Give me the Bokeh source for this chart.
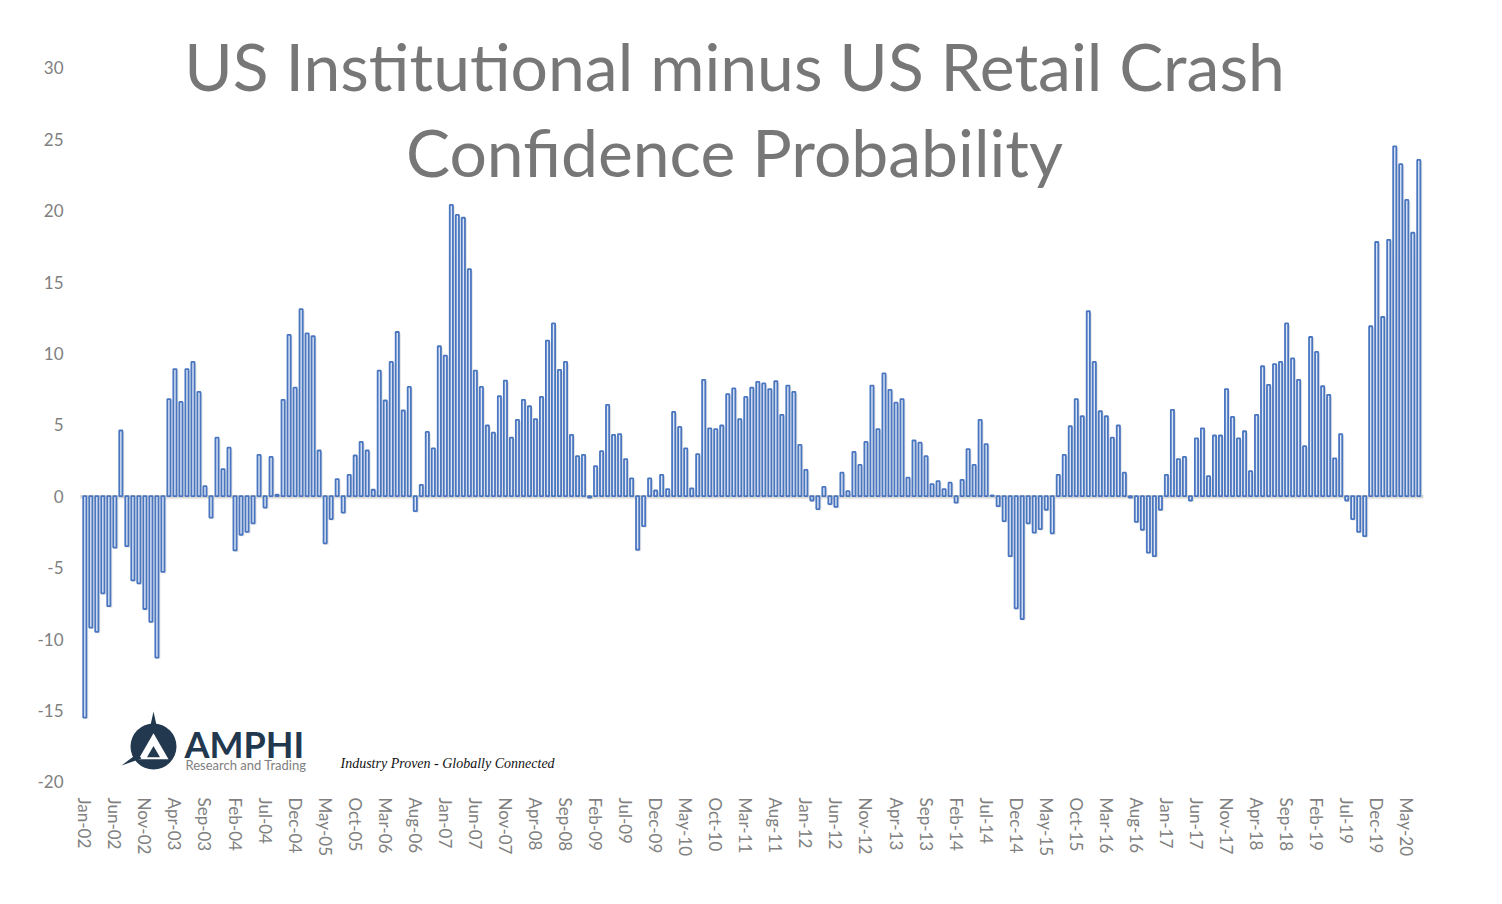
from bokeh.plotting import figure
from bokeh.models import Range1d, FixedTicker, ColumnDataSource
from bokeh.embed import file_html
from bokeh.resources import INLINE
from bokeh.core.properties import value

# ---------------- data ----------------
values = [
    -15.5, -9.2, -9.5, -6.8, -7.7, -3.6, 4.6, -3.5, -5.9, -6.1, -7.9, -8.8,      # 2002
    -11.3, -5.3, 6.8, 8.9, 6.6, 8.9, 9.4, 7.3, 0.7, -1.5, 4.1, 1.9,              # 2003
    3.4, -3.8, -2.7, -2.5, -1.9, 2.9, -0.8, 2.75, 0.1, 6.75, 11.3, 7.6,          # 2004
    13.1, 11.4, 11.2, 3.2, -3.3, -1.6, 1.2, -1.15, 1.5, 2.85, 3.8, 3.2,          # 2005
    0.45, 8.8, 6.7, 9.4, 11.5, 6.0, 7.65, -1.05, 0.8, 4.5, 3.35, 10.5,           # 2006
    9.85, 20.4, 19.7, 19.5, 15.9, 8.8, 7.65, 4.95, 4.45, 7.0, 8.1, 4.1,          # 2007
    5.35, 6.75, 6.3, 5.4, 6.95, 10.9, 12.1, 8.85, 9.4, 4.3, 2.8, 2.9,            # 2008
    -0.1, 2.1, 3.15, 6.4, 4.3, 4.35, 2.6, 1.25, -3.75, -2.1, 1.25, 0.4,          # 2009
    1.5, 0.5, 5.9, 4.85, 3.35, 0.55, 2.95, 8.15, 4.75, 4.7, 4.95, 7.15,          # 2010
    7.55, 5.4, 6.95, 7.6, 8.0, 7.9, 7.5, 8.05, 5.7, 7.75, 7.3, 3.6,              # 2011
    1.85, -0.3, -0.9, 0.65, -0.55, -0.75, 1.65, 0.35, 3.1, 2.2, 3.8, 7.75,       # 2012
    4.7, 8.6, 7.45, 6.55, 6.8, 1.3, 3.9, 3.75, 2.8, 0.85, 1.05, 0.5,             # 2013
    0.95, -0.45, 1.15, 3.3, 2.2, 5.35, 3.65, 0.05, -0.7, -1.75, -4.2, -7.85,     # 2014
    -8.6, -1.9, -2.55, -2.3, -0.95, -2.6, 1.5, 2.9, 4.9, 6.8, 5.6, 12.95,        # 2015
    9.4, 5.95, 5.6, 4.1, 4.95, 1.65, -0.1, -1.8, -2.35, -3.95, -4.2, -0.95,      # 2016
    1.5, 6.05, 2.6, 2.75, -0.3, 4.05, 4.75, 1.4, 4.25, 4.25, 7.5, 5.55,          # 2017
    4.05, 4.55, 1.75, 5.7, 9.1, 7.8, 9.25, 9.4, 12.1, 9.65, 8.15, 3.5,           # 2018
    11.15, 10.1, 7.7, 7.1, 2.65, 4.35, -0.3, -1.6, -2.5, -2.8, 11.9, 17.8,       # 2019
    12.55, 17.95, 24.5, 23.25, 20.75, 18.45, 23.55,                              # 2020
]
month_names = ["Jan", "Feb", "Mar", "Apr", "May", "Jun",
               "Jul", "Aug", "Sep", "Oct", "Nov", "Dec"]
first_year = 2002
months = [f"{month_names[i % 12]}-{(first_year + i // 12) % 100:02d}"
          for i in range(len(values))]
x_tick_positions = list(range(0, len(values), 5))
x_tick_labels = [months[i] for i in x_tick_positions]
y_ticks = [-20, -15, -10, -5, 0, 5, 10, 15, 20, 25, 30]
y_tick_labels = [str(t) for t in y_ticks]
title_lines = ["US Institutional minus US Retail Crash", "Confidence Probability"]
logo_name = "AMPHI"
logo_sub = "Research and Trading"
tagline = "Industry Proven - Globally Connected"

# ---------------- layout helpers (canvas pixels -> data) ----------------
X0, DX = 84.3, 6.009      # x of first bar, px per month
Y0, DY = 495.7, 14.28     # y of zero, px per unit


def px_x(px):
    return (px - X0) / DX


def px_y(py):
    return (Y0 - py) / DY


def base_y(py, size):
    # alphabetic baseline at canvas y=py for a text of the given pixel size
    return px_y(py - 0.375 * size)


LEFT, TOP, RIGHT, BOTTOM = 75, 8, 1494, 796
W, H = 1494, 896

p = figure(width=W, height=H, output_backend="svg", toolbar_location=None,
           x_range=Range1d(px_x(LEFT), px_x(RIGHT)),
           y_range=Range1d(px_y(BOTTOM), px_y(TOP)),
           min_border_left=LEFT, min_border_right=W - RIGHT,
           min_border_top=TOP, min_border_bottom=H - BOTTOM)
p.outline_line_color = None
p.grid.visible = False
p.background_fill_color = "white"
p.border_fill_color = "white"

FONT = "Lato"
GRAY = "#808080"
NAVY = "#22384f"

n = len(values)
xs = list(range(n))

# soft drop shadow of the bars and the baseline (offset 1.2px right, 1.5px down)
sh_dx, sh_dy = 1.2 / DX, 1.5 / DY
shadow = ColumnDataSource(dict(x=[x + sh_dx for x in xs],
                               top=[v - sh_dy for v in values],
                               bottom=[-sh_dy] * n))
p.vbar(x="x", top="top", bottom="bottom", width=0.78, source=shadow,
       fill_color="#000000", fill_alpha=0.10, line_color=None)
p.line([-0.75, n - 1 + 0.75], [-sh_dy, -sh_dy], line_color="#000000",
       line_alpha=0.08, line_width=3)

# zero line
p.line([-0.75, n - 1 + 0.75], [0, 0], line_color="#d2d2d2", line_width=2.5)

src = ColumnDataSource(dict(x=xs, v=values))
p.vbar(x="x", top="v", bottom=0, width=0.53, source=src,
       fill_color="#dce6f6", line_color="#4a76c0", line_width=1.8)

# axes
p.yaxis.ticker = FixedTicker(ticks=y_ticks)
p.yaxis.major_label_overrides = {t: l for t, l in zip(y_ticks, y_tick_labels)}
p.xaxis.ticker = FixedTicker(ticks=x_tick_positions)
p.xaxis.major_label_overrides = {t: l for t, l in zip(x_tick_positions, x_tick_labels)}
p.xaxis.major_label_orientation = "vertical"
for ax in (p.xaxis, p.yaxis):
    ax.axis_line_color = None
    ax.major_tick_line_color = None
    ax.minor_tick_line_color = None
    ax.major_tick_out = 0
    ax.major_label_text_font = FONT
    ax.major_label_text_font_size = "17px"
    ax.major_label_text_color = GRAY
p.yaxis.major_label_standoff = 12
p.xaxis.major_label_standoff = 1

# title
TS = 66
p.text(x=[px_x(734), px_x(734)], y=[base_y(89.5, TS), base_y(175.5, TS)], text=title_lines,
       text_font=value(FONT), text_font_size=f"{TS}px", text_color="#777777",
       text_align="center", text_baseline="alphabetic")

# logo emblem
p.scatter(x=[px_x(153)], y=[px_y(746)], size=46, marker="circle",
          fill_color=NAVY, line_color=None)
p.scatter(x=[px_x(153)], y=[px_y(750)], size=30, marker="triangle",
          fill_color="white", line_color=None)
p.scatter(x=[px_x(153)], y=[px_y(753)], size=13, marker="triangle",
          fill_color=NAVY, line_color=None)
p.patch(x=[px_x(149.5), px_x(153), px_x(156.5)], y=[px_y(727), px_y(711), px_y(727)],
        fill_color=NAVY, line_color=None)
p.patch(x=[px_x(121), px_x(137), px_x(141)], y=[px_y(765), px_y(753), px_y(758)],
        fill_color=NAVY, line_color=None)
p.text(x=[px_x(184)], y=[base_y(757, 36)], text=[logo_name], text_font=value(FONT),
       text_font_style="bold", text_font_size="36px", text_color=NAVY,
       text_align="left", text_baseline="alphabetic")
p.text(x=[px_x(185)], y=[base_y(769, 13)], text=[logo_sub], text_font=value(FONT),
       text_font_size="13px", text_color=GRAY,
       text_align="left", text_baseline="alphabetic")
p.text(x=[px_x(340)], y=[base_y(768, 14)], text=[tagline], text_font=value("Liberation Serif"),
       text_font_style="italic", text_font_size="14px", text_color="#111111",
       text_align="left", text_baseline="alphabetic")

open("out.html", "w").write(file_html(p, INLINE))
